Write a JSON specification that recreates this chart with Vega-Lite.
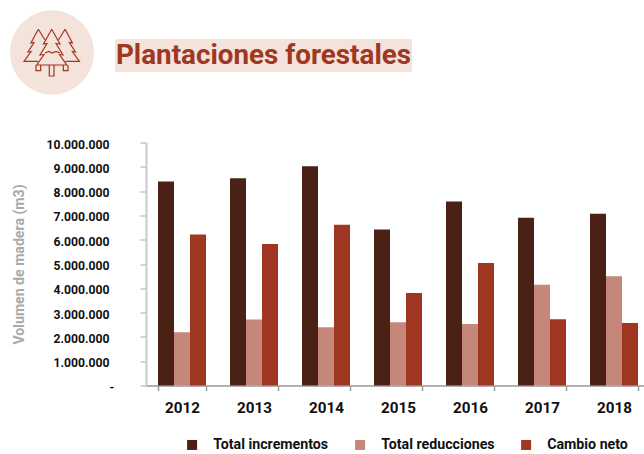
{"$schema":"https://vega.github.io/schema/vega-lite/v6.json","width":504,"height":243,"autosize":"none","padding":{"left":146,"top":142.5,"right":0,"bottom":68.5},"background":"white","config":{"view":{"stroke":null},"font":"Roboto"},
"resolve":{"scale":{"x":"independent","y":"independent"},"axis":{"x":"independent","y":"independent"}},
"layer":[
{"data":{"values":[
{"year":"2012","serie":"Total incrementos","valor":8400000},{"year":"2012","serie":"Total reducciones","valor":2190000},{"year":"2012","serie":"Cambio neto","valor":6210000},
{"year":"2013","serie":"Total incrementos","valor":8530000},{"year":"2013","serie":"Total reducciones","valor":2720000},{"year":"2013","serie":"Cambio neto","valor":5820000},
{"year":"2014","serie":"Total incrementos","valor":9020000},{"year":"2014","serie":"Total reducciones","valor":2400000},{"year":"2014","serie":"Cambio neto","valor":6620000},
{"year":"2015","serie":"Total incrementos","valor":6420000},{"year":"2015","serie":"Total reducciones","valor":2600000},{"year":"2015","serie":"Cambio neto","valor":3810000},
{"year":"2016","serie":"Total incrementos","valor":7570000},{"year":"2016","serie":"Total reducciones","valor":2530000},{"year":"2016","serie":"Cambio neto","valor":5040000},
{"year":"2017","serie":"Total incrementos","valor":6900000},{"year":"2017","serie":"Total reducciones","valor":4150000},{"year":"2017","serie":"Cambio neto","valor":2730000},
{"year":"2018","serie":"Total incrementos","valor":7070000},{"year":"2018","serie":"Total reducciones","valor":4500000},{"year":"2018","serie":"Cambio neto","valor":2570000}
]},
"mark":{"type":"bar"},
"encoding":{
"x":{"field":"year","type":"nominal","scale":{"paddingInner":0.3333,"paddingOuter":0.1667},"axis":{"title":null,"labelAngle":0,"labelFont":"Roboto","labelFontWeight":"bold","labelFontSize":15.2,"labelColor":"#111111","labelPadding":10,"domainColor":"#999999","domainWidth":1.5,"tickColor":"#999999","tickWidth":1.5,"tickSize":5,"tickBand":"extent"}},
"xOffset":{"field":"serie","type":"nominal","sort":["Total incrementos","Total reducciones","Cambio neto"],"scale":{"paddingInner":0,"paddingOuter":0}},
"y":{"field":"valor","type":"quantitative","scale":{"domain":[0,10000000],"nice":false},"axis":{"title":"Volumen de madera (m3)","titleFont":"Roboto","titleFontWeight":"bold","titleFontSize":14.1,"titleColor":"#a9a9a9","titlePadding":19,"values":[0,1000000,2000000,3000000,4000000,5000000,6000000,7000000,8000000,9000000,10000000],"grid":false,"labelFont":"Roboto","labelFontWeight":"bold","labelFontSize":12.2,"labelColor":"#111111","labelPadding":31,"labelOffset":1.5,"labelAlign":{"expr":"datum.value == 0 ? 'left' : 'right'"},"labelExpr":"datum.value == 0 ? '\u00a0-' : replace(format(datum.value, ','), regexp(',', 'g'), '.')","domainColor":"#c8c8c8","domainWidth":2,"tickColor":"#a8a8a8","tickWidth":1,"tickSize":6}},
"color":{"field":"serie","type":"nominal","scale":{"domain":["Total incrementos","Total reducciones","Cambio neto"],"range":["#4a2114","#c4877a","#a03722"]},"legend":{"title":null,"orient":"none","legendX":39,"legendY":295,"direction":"horizontal","columns":3,"symbolType":"square","symbolSize":100,"symbolStrokeWidth":0,"labelFont":"Roboto","labelFontWeight":"bold","labelFontSize":14.2,"labelColor":"#111111","labelOffset":14,"columnPadding":24,"labelLimit":200}}
}},
{"data":{"values":[{"px":52,"py":52.5}]},"mark":{"type":"point","shape":"circle","filled":true,"color":"#f3e3db","opacity":1,"size":7100},
"encoding":{"x":{"field":"px","type":"quantitative","scale":{"domain":[0,644],"range":[-146,498],"nice":false,"zero":false},"axis":null},"y":{"field":"py","type":"quantitative","scale":{"domain":[0,454],"range":[-142.5,311.5],"nice":false,"zero":false},"axis":null}}},
{"data":{"values":[{"px":115,"px2":412,"py":39,"py2":72}]},"mark":{"type":"rect","color":"#f3e3db","cornerRadius":2},
"encoding":{"x":{"field":"px","type":"quantitative","scale":{"domain":[0,644],"range":[-146,498],"nice":false,"zero":false},"axis":null},"x2":{"field":"px2"},"y":{"field":"py","type":"quantitative","scale":{"domain":[0,454],"range":[-142.5,311.5],"nice":false,"zero":false},"axis":null},"y2":{"field":"py2"}}},
{"data":{"values":[{"px":263.5,"py":56,"t":"Plantaciones forestales"}]},"mark":{"type":"text","font":"Roboto","fontWeight":"bold","fontSize":27.8,"color":"#a03722","align":"center","baseline":"middle"},
"encoding":{"text":{"field":"t"},"x":{"field":"px","type":"quantitative","scale":{"domain":[0,644],"range":[-146,498],"nice":false,"zero":false},"axis":null},"y":{"field":"py","type":"quantitative","scale":{"domain":[0,454],"range":[-142.5,311.5],"nice":false,"zero":false},"axis":null}}},
{"data":{"values":[
{"s":"c","o":1,"px":51.7,"py":29.3},{"s":"c","o":2,"px":43.5,"py":44},{"s":"c","o":3,"px":47,"py":43.5},{"s":"c","o":4,"px":40,"py":55},{"s":"c","o":5,"px":44,"py":54.5},{"s":"c","o":6,"px":36.7,"py":65},{"s":"c","o":7,"px":66.7,"py":65},{"s":"c","o":8,"px":59.5,"py":54.5},{"s":"c","o":9,"px":63,"py":55},{"s":"c","o":10,"px":56,"py":43.5},{"s":"c","o":11,"px":60,"py":44},{"s":"c","o":12,"px":51.7,"py":29.3},
{"s":"ct","o":1,"px":49.3,"py":65},{"s":"ct","o":2,"px":49.3,"py":76},{"s":"ct","o":3,"px":54,"py":76},{"s":"ct","o":4,"px":54,"py":65},
{"s":"w1","o":1,"px":45,"py":53},{"s":"w1","o":2,"px":49,"py":51.5},{"s":"w1","o":3,"px":52,"py":53},{"s":"w1","o":4,"px":56,"py":51.5},{"s":"w1","o":5,"px":60,"py":53},
{"s":"l","o":1,"px":38.3,"py":29.3},{"s":"l","o":2,"px":31,"py":43},{"s":"l","o":3,"px":34,"py":42.5},{"s":"l","o":4,"px":28,"py":52},{"s":"l","o":5,"px":31,"py":51.5},{"s":"l","o":6,"px":24,"py":61.3},{"s":"l","o":7,"px":38,"py":61.3},
{"s":"l2","o":1,"px":38.3,"py":29.3},{"s":"l2","o":2,"px":45,"py":40},
{"s":"lt","o":1,"px":36,"py":65},{"s":"lt","o":2,"px":36,"py":70.7},{"s":"lt","o":3,"px":40.7,"py":70.7},{"s":"lt","o":4,"px":40.7,"py":65},
{"s":"r","o":1,"px":65.1,"py":29.3},{"s":"r","o":2,"px":72.4,"py":43},{"s":"r","o":3,"px":69.4,"py":42.5},{"s":"r","o":4,"px":75.4,"py":52},{"s":"r","o":5,"px":72.4,"py":51.5},{"s":"r","o":6,"px":79.4,"py":61.3},{"s":"r","o":7,"px":65.4,"py":61.3},
{"s":"r2","o":1,"px":65.1,"py":29.3},{"s":"r2","o":2,"px":58.4,"py":40},
{"s":"rt","o":1,"px":63.3,"py":65},{"s":"rt","o":2,"px":63.3,"py":70.7},{"s":"rt","o":3,"px":68,"py":70.7},{"s":"rt","o":4,"px":68,"py":65}
]},"mark":{"type":"line","color":"#a03722","strokeWidth":1.2},
"encoding":{"detail":{"field":"s"},"order":{"field":"o","type":"quantitative"},"x":{"field":"px","type":"quantitative","scale":{"domain":[0,644],"range":[-146,498],"nice":false,"zero":false},"axis":null},"y":{"field":"py","type":"quantitative","scale":{"domain":[0,454],"range":[-142.5,311.5],"nice":false,"zero":false},"axis":null}}}
]}
